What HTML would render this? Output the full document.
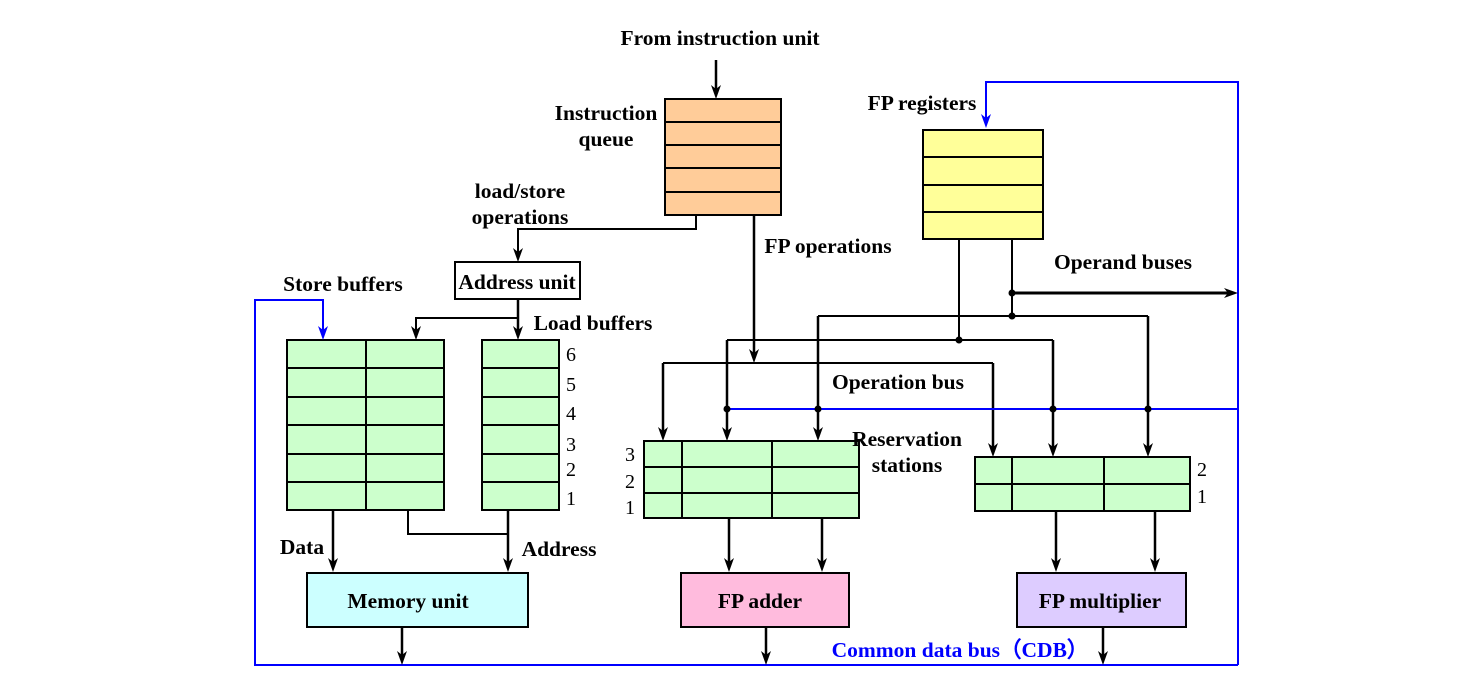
<!DOCTYPE html>
<html><head><meta charset="utf-8"><style>
body{margin:0;background:#fff}
svg{display:block}
text{font-family:"Liberation Serif",serif;font-weight:bold;font-size:21.5px;fill:#000}
.n{font-weight:normal;font-size:20px}
</style></head><body>
<svg width="1474" height="692" viewBox="0 0 1474 692" xmlns="http://www.w3.org/2000/svg">
<g stroke="#000" stroke-width="2" fill="none">
<line x1="716" y1="60" x2="716" y2="92" stroke-width="2.5"/>
<rect x="665" y="99" width="116" height="116" fill="#ffcc99"/>
<path d="M665 122H781M665 145H781M665 168H781M665 192H781"/>
<path d="M696 215V229H518V256"/>
<rect x="455" y="262" width="125" height="37" fill="#fff"/>
<path d="M518 299V334" stroke-width="2.5"/>
<path d="M518 318H416V334"/>
<rect x="287" y="340" width="157" height="170" fill="#ccffcc"/>
<path d="M366 340V510M287 368H444M287 397H444M287 425H444M287 454H444M287 482H444"/>
<rect x="482" y="340" width="77" height="170" fill="#ccffcc"/>
<path d="M482 368H559M482 397H559M482 425H559M482 454H559M482 482H559"/>
<path d="M333 510V566" stroke-width="2.5"/>
<path d="M508 510V566" stroke-width="2.5"/>
<path d="M408 510V534H508"/>
<rect x="307" y="573" width="221" height="54" fill="#ccffff"/>
<path d="M402 627V660" stroke-width="2.5"/>
<rect x="923" y="130" width="120" height="109" fill="#ffff99"/>
<path d="M923 157H1043M923 185H1043M923 212H1043"/>
<path d="M959 239V340M1012 239V316"/>
<path d="M1012 293H1230" stroke-width="3"/>
<path d="M818 316H1148"/>
<path d="M727 340H1053"/>
<path d="M663 363H993"/>
<g stroke-width="2.5">
<path d="M754 215V356"/>
<path d="M663 363V435"/>
<path d="M727 340V435"/>
<path d="M818 316V435"/>
<path d="M993 363V450"/>
<path d="M1053 340V450"/>
<path d="M1148 316V450"/>
<path d="M729 518V566"/>
<path d="M822 518V566"/>
<path d="M766 627V660"/>
<path d="M1056 511V566"/>
<path d="M1155 511V566"/>
<path d="M1103 627V660"/>
</g>
<rect x="644" y="441" width="215" height="77" fill="#ccffcc"/>
<path d="M682 441V518M772 441V518M644 467H859M644 493H859"/>
<rect x="681" y="573" width="168" height="54" fill="#ffbbdd"/>
<rect x="975" y="457" width="215" height="54" fill="#ccffcc"/>
<path d="M1012 457V511M1104 457V511M975 484H1190"/>
<rect x="1017" y="573" width="169" height="54" fill="#ddccff"/>
</g>
<g stroke="#00f" stroke-width="2" fill="none">
<path d="M1238 665H255V300H323V334"/>
<path d="M1238 665V82H986V122"/>
<path d="M727 409H1238"/>
</g>
<g fill="#00f">
<path d="M318,326 L323,340 L328,326 L323,330Z"/>
<path d="M981,114 L986,128 L991,114 L986,118Z"/>
</g>
<g fill="#000">
<path d="M711,85 L716,99 L721,85 L716,89Z"/>
<path d="M513,248 L518,262 L523,248 L518,252Z"/>
<path d="M513,326 L518,340 L523,326 L518,330Z"/>
<path d="M411,326 L416,340 L421,326 L416,330Z"/>
<path d="M328,558 L333,572 L338,558 L333,562Z"/>
<path d="M503,558 L508,572 L513,558 L508,562Z"/>
<path d="M397,651 L402,665 L407,651 L402,655Z"/>
<path d="M749,349 L754,363 L759,349 L754,353Z"/>
<path d="M658,427 L663,441 L668,427 L663,431Z"/>
<path d="M722,427 L727,441 L732,427 L727,431Z"/>
<path d="M813,427 L818,441 L823,427 L818,431Z"/>
<path d="M988,443 L993,457 L998,443 L993,447Z"/>
<path d="M1048,443 L1053,457 L1058,443 L1053,447Z"/>
<path d="M1143,443 L1148,457 L1153,443 L1148,447Z"/>
<path d="M724,558 L729,572 L734,558 L729,562Z"/>
<path d="M817,558 L822,572 L827,558 L822,562Z"/>
<path d="M761,651 L766,665 L771,651 L766,655Z"/>
<path d="M1051,558 L1056,572 L1061,558 L1056,562Z"/>
<path d="M1150,558 L1155,572 L1160,558 L1155,562Z"/>
<path d="M1098,651 L1103,665 L1108,651 L1103,655Z"/>
<path d="M1224,288 L1238,293 L1224,298 L1228,293Z"/>
<circle cx="1012" cy="293" r="3.5"/><circle cx="1012" cy="316" r="3.5"/><circle cx="959" cy="340" r="3.5"/>
<circle cx="727" cy="409" r="3.5"/><circle cx="818" cy="409" r="3.5"/><circle cx="1053" cy="409" r="3.5"/><circle cx="1148" cy="409" r="3.5"/>
</g>
<text x="720" y="45" text-anchor="middle">From instruction unit</text>
<text x="606" y="120" text-anchor="middle">Instruction</text>
<text x="606" y="146" text-anchor="middle">queue</text>
<text x="520" y="198" text-anchor="middle">load/store</text>
<text x="520" y="224" text-anchor="middle">operations</text>
<text x="517" y="289" text-anchor="middle">Address unit</text>
<text x="343" y="291" text-anchor="middle">Store buffers</text>
<text x="593" y="330" text-anchor="middle">Load buffers</text>
<text x="922" y="110" text-anchor="middle">FP registers</text>
<text x="828" y="253" text-anchor="middle">FP operations</text>
<text x="1123" y="269" text-anchor="middle">Operand buses</text>
<text x="898" y="389" text-anchor="middle">Operation bus</text>
<text x="907" y="446" text-anchor="middle">Reservation</text>
<text x="907" y="472" text-anchor="middle">stations</text>
<text x="302" y="554" text-anchor="middle">Data</text>
<text x="559" y="556" text-anchor="middle">Address</text>
<text x="408" y="608" text-anchor="middle">Memory unit</text>
<text x="760" y="608" text-anchor="middle">FP adder</text>
<text x="1100" y="608" text-anchor="middle">FP multiplier</text>
<text x="960" y="657" text-anchor="middle" style="fill:#00f">Common data bus（CDB）</text>
<text class="n" x="566" y="361">6</text><text class="n" x="566" y="391">5</text><text class="n" x="566" y="420">4</text>
<text class="n" x="566" y="451">3</text><text class="n" x="566" y="476">2</text><text class="n" x="566" y="505">1</text>
<text class="n" x="625" y="461">3</text><text class="n" x="625" y="488">2</text><text class="n" x="625" y="514">1</text>
<text class="n" x="1197" y="476">2</text><text class="n" x="1197" y="503">1</text>
</svg>
</body></html>
